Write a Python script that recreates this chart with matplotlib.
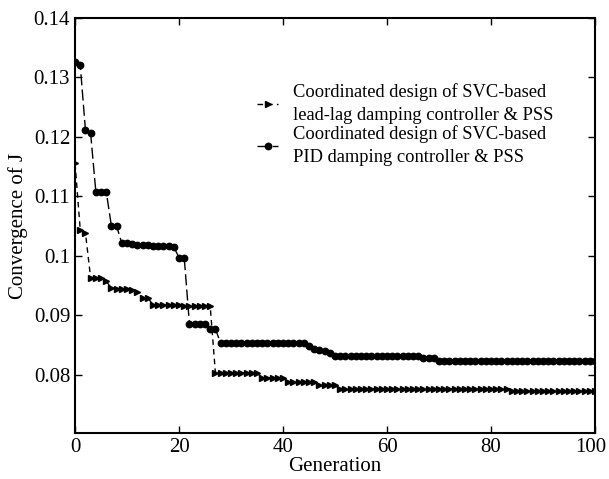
import numpy as np
import matplotlib.pyplot as plt
from matplotlib.transforms import ScaledTranslation

plt.rcParams['font.family'] = ['Liberation Serif', 'DejaVu Serif']
plt.rcParams['mathtext.fontset'] = 'stix'

generation = np.arange(0, 101)

# best J per generation, lead-lag SVC controller + PSS
j_leadlag = [
    0.1156, 0.1044, 0.1039, 0.0963, 0.0963, 0.0963, 0.0957, 0.0946, 0.0945, 0.0945,
    0.0944, 0.0942, 0.0940, 0.0929, 0.0929, 0.0918, 0.0918, 0.0918, 0.0917, 0.0917,
    0.0917, 0.0916, 0.0916, 0.0916, 0.0915, 0.0915, 0.0915, 0.0803, 0.0803, 0.0803,
    0.0803, 0.0803, 0.0803, 0.0803, 0.0803, 0.0803, 0.0795, 0.0795, 0.0795, 0.0795,
    0.0795, 0.0787, 0.0787, 0.0787, 0.0787, 0.0787, 0.0787, 0.0782, 0.0782, 0.0782,
    0.0782, 0.0776, 0.0776, 0.0776, 0.0776, 0.0776, 0.0776, 0.0776, 0.0776, 0.0776,
    0.0776, 0.0776, 0.0776, 0.0776, 0.0776, 0.0776, 0.0776, 0.0776, 0.0776, 0.0776,
    0.0776, 0.0776, 0.0776, 0.0776, 0.0776, 0.0776, 0.0776, 0.0776, 0.0776, 0.0776,
    0.0776, 0.0776, 0.0776, 0.0776, 0.0772, 0.0772, 0.0772, 0.0772, 0.0772, 0.0772,
    0.0772, 0.0772, 0.0772, 0.0772, 0.0772, 0.0772, 0.0772, 0.0772, 0.0772, 0.0772,
    0.0772,
]

# best J per generation, PID SVC controller + PSS
j_pid = [
    0.1326, 0.1321, 0.1212, 0.1206, 0.1108, 0.1108, 0.1108, 0.1050, 0.1050, 0.1021,
    0.1021, 0.1020, 0.1019, 0.1018, 0.1018, 0.1017, 0.1017, 0.1017, 0.1016, 0.1015,
    0.0997, 0.0997, 0.0886, 0.0886, 0.0886, 0.0886, 0.0877, 0.0877, 0.0853, 0.0853,
    0.0853, 0.0853, 0.0853, 0.0853, 0.0853, 0.0853, 0.0853, 0.0853, 0.0853, 0.0853,
    0.0853, 0.0853, 0.0853, 0.0853, 0.0853, 0.0848, 0.0843, 0.0842, 0.0840, 0.0837,
    0.0832, 0.0832, 0.0832, 0.0832, 0.0832, 0.0832, 0.0832, 0.0832, 0.0831, 0.0831,
    0.0831, 0.0831, 0.0831, 0.0831, 0.0831, 0.0831, 0.0831, 0.0829, 0.0829, 0.0829,
    0.0823, 0.0823, 0.0823, 0.0823, 0.0823, 0.0823, 0.0823, 0.0823, 0.0823, 0.0823,
    0.0823, 0.0823, 0.0823, 0.0823, 0.0823, 0.0823, 0.0823, 0.0823, 0.0823, 0.0823,
    0.0823, 0.0823, 0.0823, 0.0823, 0.0823, 0.0823, 0.0823, 0.0823, 0.0823, 0.0823,
    0.0823,
]

labels = ['Coordinated design of SVC-based\nlead-lag damping controller & PSS',
          'Coordinated design of SVC-based\nPID damping controller & PSS']

fig = plt.figure(figsize=(6.09, 4.79), dpi=100)
ax = fig.add_axes([0.1232, 0.096, 0.8538, 0.8664])

ax.plot(generation, j_leadlag, color='black', lw=1.0, dashes=(4, 3),
        marker='>', ms=4.6, label=labels[0])
ax.plot(generation, j_pid, color='black', lw=1.0, dashes=(8, 3),
        marker='o', ms=4.6, label=labels[1])

ax.set_xlim(0, 100)
ax.set_ylim(0.0702, 0.14)
ax.set_xticks([0, 20, 40, 60, 80, 100])
ax.set_yticks([0.08, 0.09, 0.1, 0.11, 0.12, 0.13, 0.14])
ax.set_yticklabels(['0.08', '0.09', '0.1', '0.11', '0.12', '0.13', '0.14'])
ax.tick_params(direction='in', top=True, right=True, labelsize=15, length=5, width=1)
for s in ax.spines.values():
    s.set_linewidth(1.5)

# nudge the "100" label left so it stays inside the figure
last = ax.get_xticklabels()[-1]
last.set_transform(last.get_transform() + ScaledTranslation(-0.04, 0, fig.dpi_scale_trans))

ax.set_xlabel('Generation', fontsize=15, labelpad=0)
ax.set_ylabel('Convergence of J', fontsize=15, labelpad=4)

leg = ax.legend(loc='upper left', bbox_to_anchor=(0.35, 0.842), frameon=False,
                fontsize=13.3, handlelength=1.15, handletextpad=0.8,
                labelspacing=0.1, borderpad=0, borderaxespad=0)
for t in leg.get_texts():
    t.set_linespacing(1.4)

fig.savefig('out.png', dpi=100)
